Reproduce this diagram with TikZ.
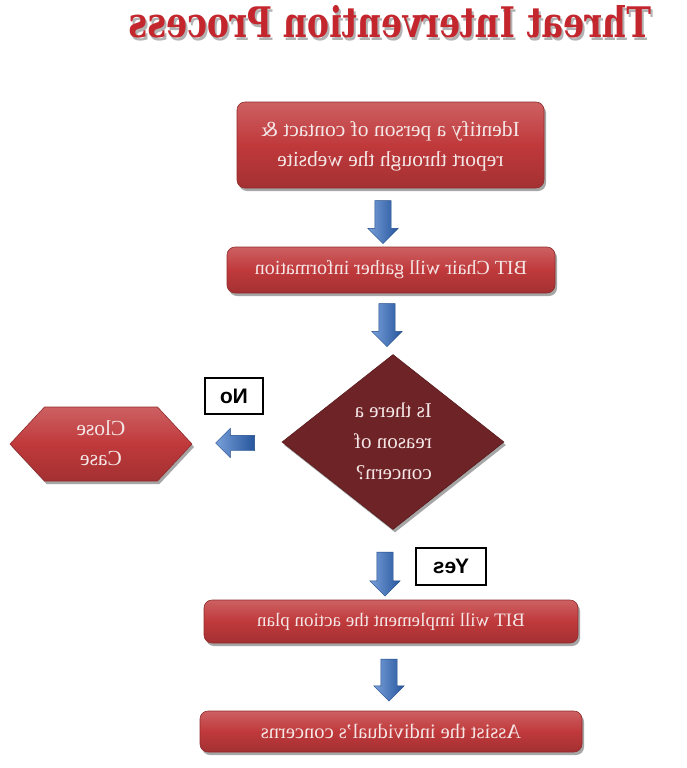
\documentclass[tikz,border=0pt]{standalone}
\usepackage{fontspec}
\usepackage{graphicx}
\setmainfont{Liberation Serif}
\newfontfamily\labelfont{Liberation Sans}
\newfontfamily\titlefont{DejaVu Serif}
\usetikzlibrary{shapes.geometric,shapes.symbols,shapes.arrows,shadows}
\definecolor{boxred}{HTML}{C0393B}
\definecolor{boxtext}{HTML}{F4E6E6}
\definecolor{darkred}{HTML}{6E2326}
\definecolor{arrowblue}{HTML}{2F6BC4}
\definecolor{titlered}{HTML}{C4262E}
\newcommand\mir[1]{\reflectbox{#1}}
\newcommand\fs[1]{\fontsize{#1}{30}\selectfont}
\tikzset{
  shadowed/.style={drop shadow={shadow xshift=2pt, shadow yshift=-3pt, opacity=0.35, fill=black}},
  redbox/.style={shadowed, draw=boxred!75!black, line width=0.6pt, rounded corners=8pt,
    top color=boxred!80!white, bottom color=boxred!85!black, middle color=boxred,
    text=boxtext, inner sep=0pt},
  decision/.style={shadowed, diamond, fill=darkred, draw=darkred!80!black, line width=0.6pt,
    text=boxtext, inner sep=0pt,
    minimum width=222pt, minimum height=175pt},
  hexbox/.style={shadowed, signal, signal to=west and east, signal pointer angle=94,
    draw=boxred!75!black, line width=0.6pt,
    top color=boxred!80!white, bottom color=boxred!85!black, middle color=boxred,
    text=boxtext, inner sep=0pt,
    minimum width=182pt, minimum height=74pt},
  answer/.style={draw=black, line width=1.3pt, fill=white, inner sep=0pt,
    font=\labelfont\bfseries\fontsize{21}{24}\selectfont},
  blockarrow/.style={single arrow, draw=arrowblue!70!black, line width=0.4pt,
    left color=arrowblue!65!white, right color=arrowblue!80!black,
    single arrow head extend=7pt, inner sep=8pt},
}
\begin{document}
\begin{tikzpicture}[x=1pt,y=-1pt]
\useasboundingbox (0,0) rectangle (686,768);
% title
\node[inner sep=0pt, text=gray!60] (titleshadow) at (392,25)
  {\mir{\resizebox{522pt}{32pt}{\titlefont\bfseries Threat Intervention Process}}};
\node[inner sep=0pt, text=titlered] (title) at (390,22)
  {\mir{\resizebox{522pt}{32pt}{\titlefont\bfseries Threat Intervention Process}}};
% boxes
\node[redbox, minimum width=307pt, minimum height=86pt, font=\fs{21.5}] (b1) at (390.5,145)
  {\mir{\begin{tabular}{@{}c@{}}Identify a person of contact \&\\report through the website\end{tabular}}};
\node[redbox, minimum width=328pt, minimum height=46pt, font=\fs{20}] (b2) at (391,270)
  {\mir{BIT Chair will gather information}};
\node[decision, font=\fontsize{21}{31}\selectfont] (d) at (393,442)
  {\mir{\begin{tabular}{@{}l@{}}Is there a\\reason of\\concern?\end{tabular}}};
\node[hexbox, font=\fs{21.5}] (close) at (101,444)
  {\mir{\begin{tabular}{@{}c@{}}Close\\Case\end{tabular}}};
\node[redbox, minimum width=374pt, minimum height=43pt, font=\fs{19}] (b3) at (391,621.5)
  {\mir{BIT will implement the action plan}};
\node[redbox, minimum width=382pt, minimum height=41pt, font=\fs{20.5}] (b4) at (391,731.5)
  {\mir{Assist the individual's concerns}};
% answer labels
\node[answer, minimum width=58pt, minimum height=36pt] (no) at (234,396) {\mir{No}};
\node[answer, minimum width=70pt, minimum height=37pt] (yes) at (451,566.5) {\mir{Yes}};
% block arrows
\node[blockarrow, shape border rotate=270, minimum height=43pt] (a1) at (383,218) {};
\node[blockarrow, shape border rotate=270, minimum height=43pt] (a2) at (387,321) {};
\node[blockarrow, shape border rotate=180, minimum height=39pt, inner sep=7.5pt] (a5) at (239,443) {};
\node[blockarrow, shape border rotate=270, minimum height=44pt] (a3) at (385,570) {};
\node[blockarrow, shape border rotate=270, minimum height=42pt] (a4) at (389,676) {};
\end{tikzpicture}
\end{document}
